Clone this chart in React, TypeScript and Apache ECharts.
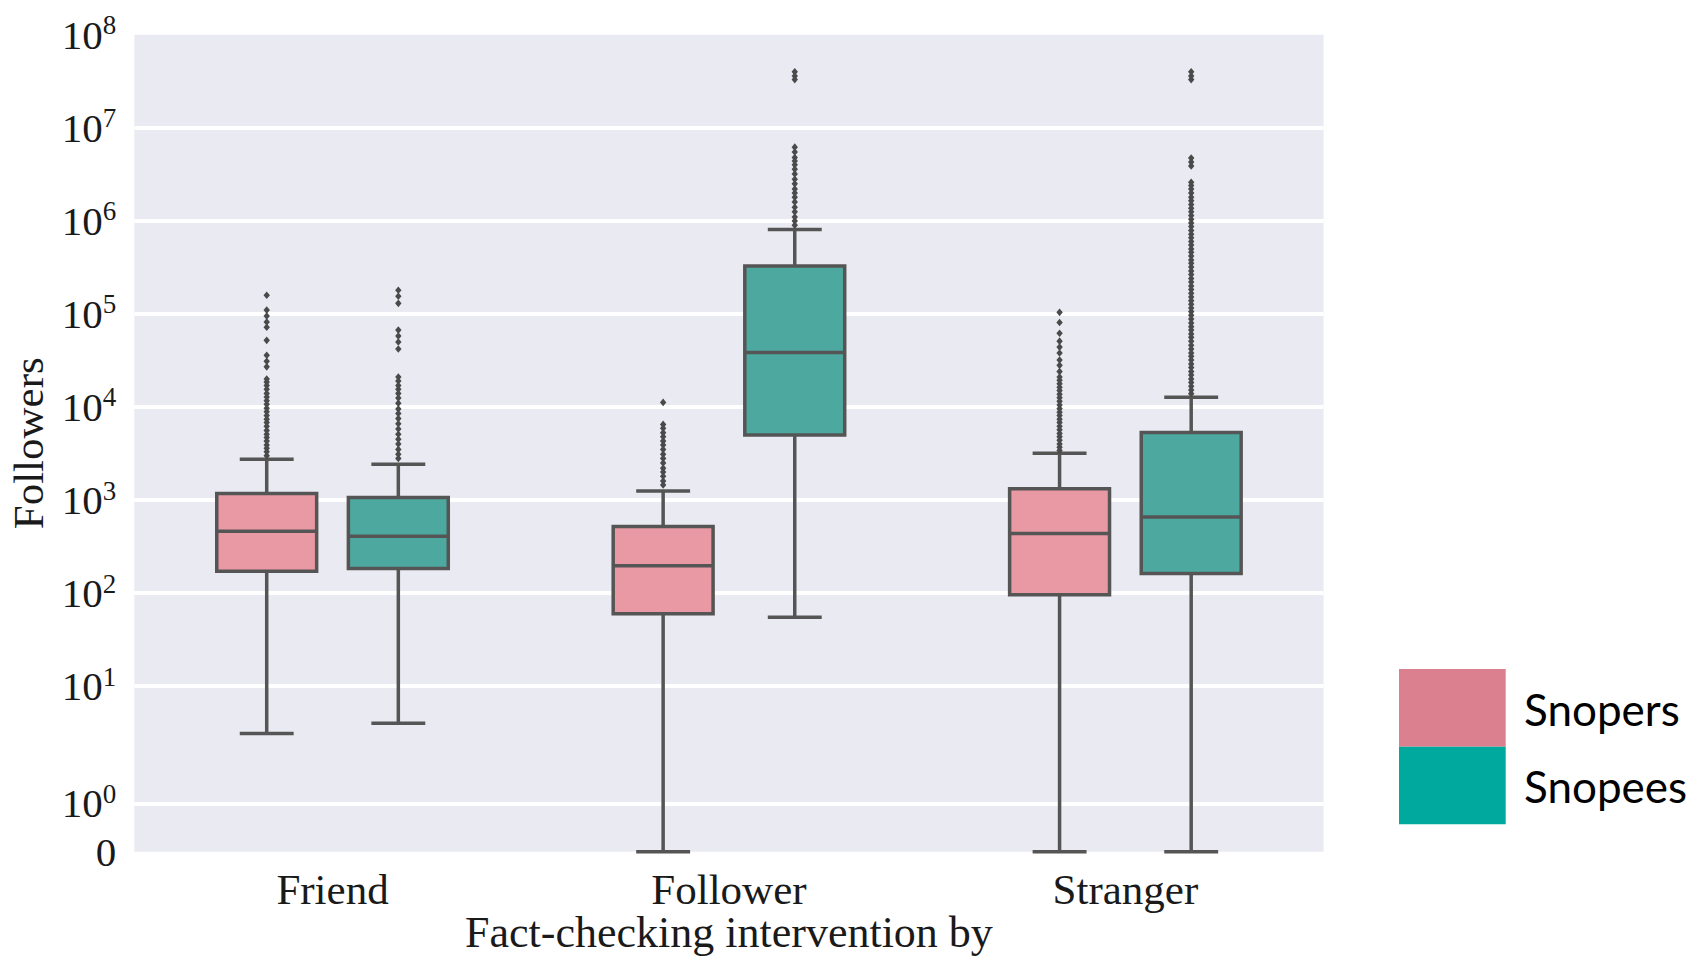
import React, { useEffect, useRef } from 'react';
import * as echarts from 'echarts';

// ---------------- data ----------------
const categories = ['Friend', 'Follower', 'Stranger'];
const seriesNames = ['Snopers', 'Snopees'];

// [lower whisker, Q1, median, Q3, upper whisker]
const snopersStats = [
  [3.1, 172, 463, 1178, 2750],
  [0, 60, 197, 519, 1253],
  [0, 96, 438, 1318, 3176],
];
const snopeesStats = [
  [4.0, 184, 409, 1066, 2430],
  [55, 4990, 38600, 327000, 810000],
  [0, 162, 655, 5320, 12700],
];

// outliers (fliers) per category
const snopersOutliers = [
  [159000, 110000, 95000, 82000, 72000, 52000, 36000, 31000, 27000,
    20000, 18500, 17000, 15500, 14000, 12800, 11700, 10700, 9700, 8900, 8100, 7400, 6800,
    6200, 5600, 5100, 4700, 4300, 3900, 3600, 3300, 3000],
  [11200, 6500, 5900, 5300, 4800, 4300, 3900, 3500, 3100, 2800, 2500, 2200, 2000, 1800, 1600, 1450],
  [104000, 81000, 62000, 51000, 44000, 38000, 32000, 28000, 24000, 21000, 19400,
    17800, 16300, 15000, 13700, 12600, 11500, 10500, 9600, 8800, 8100, 7400, 6800, 6200,
    5700, 5200, 4800, 4400, 4000, 3700, 3400],
];
const snopeesOutliers = [
  [180000, 155000, 130000, 67000, 58000, 50000, 42000, 21000, 19000, 17000, 15500, 14000,
    12500, 11000, 9500, 8500, 7500, 6600, 5800, 5100, 4500, 4000, 3500, 3100, 2800],
  [40000000, 36000000, 33000000, 6200000, 5500000, 4800000, 4400000, 4000000, 3600000,
    3200000, 2800000, 2500000, 2200000, 2000000, 1800000, 1600000, 1400000, 1250000,
    1100000, 1000000, 900000],
  [40000000, 36000000, 33000000, 4750000, 4300000, 3900000,
    2600000, 2400000, 2200000, 2000000, 1800000, 1650000, 1500000, 1370000, 1250000,
    1140000, 1040000, 950000, 870000, 790000, 720000, 660000, 600000, 550000, 500000,
    460000, 420000, 380000, 350000, 320000, 290000, 265000, 240000, 220000, 200000,
    183000, 167000, 152000, 139000, 127000, 116000, 106000, 97000, 88000, 80000, 73000,
    67000, 61000, 56000, 51000, 46000, 42000, 38000, 35000, 32000, 29000, 26500, 24000,
    22000, 20000, 18300, 16700, 15200, 13900],
];

const yTickValues = [0, 1, 10, 100, 1000, 10000, 100000, 1000000, 10000000, 100000000];
const yTickLabels = ['0', '10^0', '10^1', '10^2', '10^3', '10^4', '10^5', '10^6', '10^7', '10^8'];

// ---------------- styling ----------------
const BOX_FILL = ['#E899A4', '#4DA9A0'];
const LEGEND_COLORS = ['#DB808E', '#00A99D'];
const LINE_COLOR = '#555555';
const LINE_W = 3.5;
const FLIER_COLOR = '#4a4a4a';
const BOX_OFFSET = 0.166; // fraction of category band
const BOX_WIDTH = 0.252;
const CAP_WIDTH = 0.136;
const SERIF = '"Liberation Serif", "DejaVu Serif", serif';

// symmetric log scale (linear near zero)
const LINTHRESH = 2.13;
const LINSCALE = 1.108;
function symlog(v: number): number {
  return v < LINTHRESH ? (LINSCALE * v) / LINTHRESH : LINSCALE + Math.log10(v / LINTHRESH);
}

function tickLabel(value: number): string {
  let best = 0;
  let bestD = Infinity;
  yTickValues.forEach((t, i) => {
    const d = Math.abs(symlog(t) - value);
    if (d < bestD) { bestD = d; best = i; }
  });
  const lab = yTickLabels[best];
  if (lab.includes('^')) {
    const [b, e] = lab.split('^');
    return `{b|${b}}{s|${e}}`;
  }
  return `{b|${lab}}`;
}

function boxRenderer(side: number, fill: string) {
  return (params: any, api: any) => {
    const i = api.value(0);
    const band = api.size([1, 0])[0];
    const cx = api.coord([i, 0])[0] + side * BOX_OFFSET * band;
    const yLo = api.coord([i, api.value(1)])[1];
    const yQ1 = api.coord([i, api.value(2)])[1];
    const yMed = api.coord([i, api.value(3)])[1];
    const yQ3 = api.coord([i, api.value(4)])[1];
    const yHi = api.coord([i, api.value(5)])[1];
    const hw = (BOX_WIDTH * band) / 2;
    const cw = (CAP_WIDTH * band) / 2;
    const ls = { stroke: LINE_COLOR, lineWidth: LINE_W };
    return {
      type: 'group',
      children: [
        { type: 'line', shape: { x1: cx, y1: yQ3, x2: cx, y2: yHi }, style: ls },
        { type: 'line', shape: { x1: cx, y1: yQ1, x2: cx, y2: yLo }, style: ls },
        { type: 'line', shape: { x1: cx - cw, y1: yHi, x2: cx + cw, y2: yHi }, style: ls },
        { type: 'line', shape: { x1: cx - cw, y1: yLo, x2: cx + cw, y2: yLo }, style: ls },
        {
          type: 'rect',
          shape: { x: cx - hw, y: yQ3, width: 2 * hw, height: yQ1 - yQ3 },
          style: { fill, stroke: LINE_COLOR, lineWidth: LINE_W },
        },
        { type: 'line', shape: { x1: cx - hw, y1: yMed, x2: cx + hw, y2: yMed }, style: ls },
      ],
    };
  };
}

function flierRenderer(side: number) {
  return (params: any, api: any) => {
    const i = api.value(0);
    const band = api.size([1, 0])[0];
    const p = api.coord([i, api.value(1)]);
    const cx = p[0] + side * BOX_OFFSET * band;
    const cy = p[1];
    return {
      type: 'polygon',
      shape: { points: [[cx, cy - 3.8], [cx + 3.2, cy], [cx, cy + 3.8], [cx - 3.2, cy]] },
      style: { fill: FLIER_COLOR },
    };
  };
}

export default function App() {
  const ref = useRef<HTMLDivElement>(null);

  useEffect(() => {
    if (!ref.current) return;
    const chart = echarts.init(ref.current, undefined, { renderer: 'svg' });

    const statsList = [snopersStats, snopeesStats];
    const fliersList = [snopersOutliers, snopeesOutliers];
    const series: any[] = [];
    seriesNames.forEach((name, k) => {
      const side = k === 0 ? -1 : 1;
      series.push({
        type: 'custom',
        name,
        coordinateSystem: 'cartesian2d',
        data: statsList[k].map((s, i) => [i, ...s.map(symlog)]),
        encode: { x: 0, y: [1, 2, 3, 4, 5] },
        renderItem: boxRenderer(side, BOX_FILL[k]),
        z: 2,
      });
      const fl: number[][] = [];
      fliersList[k].forEach((arr, i) => arr.forEach((v) => fl.push([i, symlog(v)])));
      series.push({
        type: 'custom',
        name: name + ' outliers',
        coordinateSystem: 'cartesian2d',
        data: fl,
        encode: { x: 0, y: 1 },
        renderItem: flierRenderer(side),
        z: 3,
      });
    });

    const innerTicks = yTickValues.slice(1, -1).map(symlog);

    chart.setOption({
      animation: false,
      backgroundColor: '#ffffff',
      grid: {
        left: 134.3,
        right: 380.4,
        top: 34.8,
        bottom: 108.3,
        show: true,
        backgroundColor: '#EAEAF2',
        borderWidth: 0,
        containLabel: false,
        outerBoundsMode: 'none',
      },
      xAxis: {
        type: 'category',
        data: categories,
        axisLine: { show: false },
        axisTick: { show: false },
        splitLine: { show: false },
        axisLabel: {
          margin: 16,
          fontFamily: SERIF,
          fontSize: 43,
          color: '#1a1a1a',
        },
        name: 'Fact-checking intervention by',
        nameLocation: 'middle',
        nameGap: 59,
        nameMoveOverlap: false,
        nameTextStyle: { fontFamily: SERIF, fontSize: 44, lineHeight: 44, color: '#1a1a1a' },
      },
      yAxis: {
        type: 'value',
        min: 0,
        max: symlog(1e8),
        axisLine: { show: false },
        axisTick: { show: false, customValues: innerTicks },
        splitLine: { show: true, lineStyle: { color: '#ffffff', width: 4 } },
        axisLabel: {
          customValues: yTickValues.map(symlog),
          margin: 18,
          formatter: (v: number) => tickLabel(v),
          rich: {
            b: { fontFamily: SERIF, fontSize: 41, color: '#1a1a1a', lineHeight: 46 },
            s: { fontFamily: SERIF, fontSize: 27, color: '#1a1a1a', lineHeight: 27, verticalAlign: 'top' },
          },
        },
        name: 'Followers',
        nameLocation: 'middle',
        nameGap: 84,
        nameTextStyle: { fontFamily: SERIF, fontSize: 43, color: '#1a1a1a' },
      },
      graphic: [
        { type: 'rect', shape: { x: 1399, y: 669, width: 106.7, height: 77.7 }, style: { fill: LEGEND_COLORS[0] } },
        { type: 'rect', shape: { x: 1399, y: 746.7, width: 106.7, height: 77.6 }, style: { fill: LEGEND_COLORS[1] } },
        {
          type: 'text', x: 1524, y: 709,
          style: { text: seriesNames[0], fontFamily: 'Lato', fontSize: 44, fill: '#000', verticalAlign: 'middle', align: 'left' },
        },
        {
          type: 'text', x: 1524, y: 786,
          style: { text: seriesNames[1], fontFamily: 'Lato', fontSize: 44, fill: '#000', verticalAlign: 'middle', align: 'left' },
        },
      ],
      series,
    });

    return () => chart.dispose();
  }, []);

  return <div ref={ref} style={{ position: 'absolute', left: 0, top: 0, width: 1704, height: 960 }} />;
}
